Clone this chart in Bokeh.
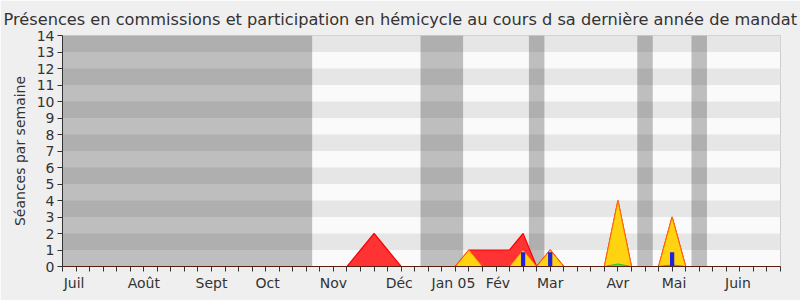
from bokeh.plotting import figure
from bokeh.models import Range1d, FixedTicker
from bokeh.embed import file_html
from bokeh.resources import INLINE

# Week index (0 = first week of July) for every weekly sample
weeks = list(range(54))

# Weekly attendance values
hemicycle = [0, 0, 0, 0, 0, 0, 0, 0, 0, 0,
             0, 0, 0, 0, 0, 0, 0, 0, 0, 0,
             0, 0, 1, 2, 1, 0, 0, 0, 0, 0,
             1, 1, 1, 1, 2, 0, 1, 0, 0, 0,
             0, 4, 0, 0, 0, 3, 0, 0, 0, 0,
             0, 0, 0, 0]
commission = [0, 0, 0, 0, 0, 0, 0, 0, 0, 0,
              0, 0, 0, 0, 0, 0, 0, 0, 0, 0,
              0, 0, 0, 0, 0, 0, 0, 0, 0, 0,
              1, 0, 0, 0, 1, 0, 1, 0, 0, 0,
              0, 4, 0, 0, 0, 3, 0, 0, 0, 0,
              0, 0, 0, 0]
interventions = [0, 0, 0, 0, 0, 0, 0, 0, 0, 0,
                 0, 0, 0, 0, 0, 0, 0, 0, 0, 0,
                 0, 0, 0, 0, 0, 0, 0, 0, 0, 0,
                 0, 0, 0, 0, 0, 0, 0, 0, 0, 0,
                 0, 0.15, 0, 0, 0, 0.1, 0, 0, 0, 0,
                 0, 0, 0, 0]
question_weeks = [34, 36, 45]
questions = [0.87, 0.87, 0.87]

# Month labels, positioned in days from the start of the period
month_days = [6, 42, 77, 106, 140, 174, 202, 225, 252, 287, 316, 349]
month_names = ["Juil", "Août", "Sept", "Oct", "Nov", "Déc", "Jan 05",
               "Fév", "Mar", "Avr", "Mai", "Juin"]

# Parliamentary recess periods (start day, end day)
recess_start = [0, 185, 241, 297, 325]
recess_end = [129, 207, 249, 305, 333]

DAYS = 7
x_days = [w * DAYS for w in weeks]
total_days = 53 * DAYS

p = figure(width=800, height=300, output_backend="svg", toolbar_location=None,
           x_range=Range1d(0, total_days), y_range=Range1d(0, 14),
           min_border_left=62, min_border_right=20, min_border_top=35,
           min_border_bottom=34)

p.title.text = ("Présences en commissions et participation en hémicycle "
                "au cours d sa dernière année de mandat")
p.title.text_font = "DejaVu Sans"
p.title.text_font_size = "16.2px"
p.title.text_font_style = "normal"
p.title.text_color = "#333333"
p.title.align = "left"
p.title.offset = -59
p.title.standoff = 13

p.background_fill_color = "#fafafa"
p.border_fill_color = "#efefef"
p.outline_line_color = "#cccccc"
p.grid.visible = False

# Alternating horizontal stripes
odd_rows = [1, 3, 5, 7, 9, 11, 13]
p.quad(left=0, right=total_days, bottom=odd_rows, top=[r + 1 for r in odd_rows],
       fill_color="#e6e6e6", line_color=None)

# Recess shading
p.quad(left=recess_start, right=recess_end, bottom=0, top=14,
       fill_color="black", fill_alpha=0.24, line_color=None)

# Hemicycle presence (red)
p.varea(x=x_days, y1=0, y2=hemicycle, fill_color="#ff3333")
p.line(x=x_days, y=hemicycle, line_color="#ff0000", line_width=1.2)

# Commission presence (yellow)
p.varea(x=x_days, y1=0, y2=commission, fill_color="#ffd30f")
p.line(x=x_days, y=commission, line_color="#ff7000", line_width=1)

# Interventions (green)
p.varea(x=x_days, y1=0, y2=interventions, fill_color="#33ee33")
p.line(x=x_days, y=interventions, line_color="#22cc22", line_width=1)

# Oral questions (blue bars)
p.vbar(x=[w * DAYS for w in question_weeks], top=questions, width=2.2,
       fill_color="#2222dd", line_color=None)

# Axes
p.yaxis.ticker = FixedTicker(ticks=list(range(15)))
p.yaxis.axis_label = "Séances par semaine"
p.yaxis.axis_label_text_font = "DejaVu Sans"
p.yaxis.axis_label_text_font_size = "14px"
p.yaxis.axis_label_text_font_style = "normal"
p.yaxis.axis_label_text_color = "#333333"
p.yaxis.axis_label_standoff = 6
p.yaxis.major_label_text_font = "DejaVu Sans"
p.yaxis.major_label_text_font_size = "14px"
p.yaxis.major_label_text_color = "#333333"
p.yaxis.major_label_standoff = 3
p.yaxis.major_tick_in = 0
p.yaxis.major_tick_out = 5
p.yaxis.minor_tick_line_color = None
p.yaxis.axis_line_color = "#333333"
p.yaxis.major_tick_line_color = "#333333"

p.xaxis.ticker = FixedTicker(ticks=month_days, minor_ticks=x_days)
p.xaxis.major_label_overrides = {d: n for d, n in zip(month_days, month_names)}
p.xaxis.major_label_text_font = "DejaVu Sans"
p.xaxis.major_label_text_font_size = "14px"
p.xaxis.major_label_text_color = "#333333"
p.xaxis.major_label_standoff = 2
p.xaxis.major_tick_line_color = None
p.xaxis.minor_tick_in = 0
p.xaxis.minor_tick_out = 5
p.xaxis.minor_tick_line_color = "#333333"
p.xaxis.axis_line_color = "#5a1e10"

open("out.html", "w").write(file_html(p, INLINE))
